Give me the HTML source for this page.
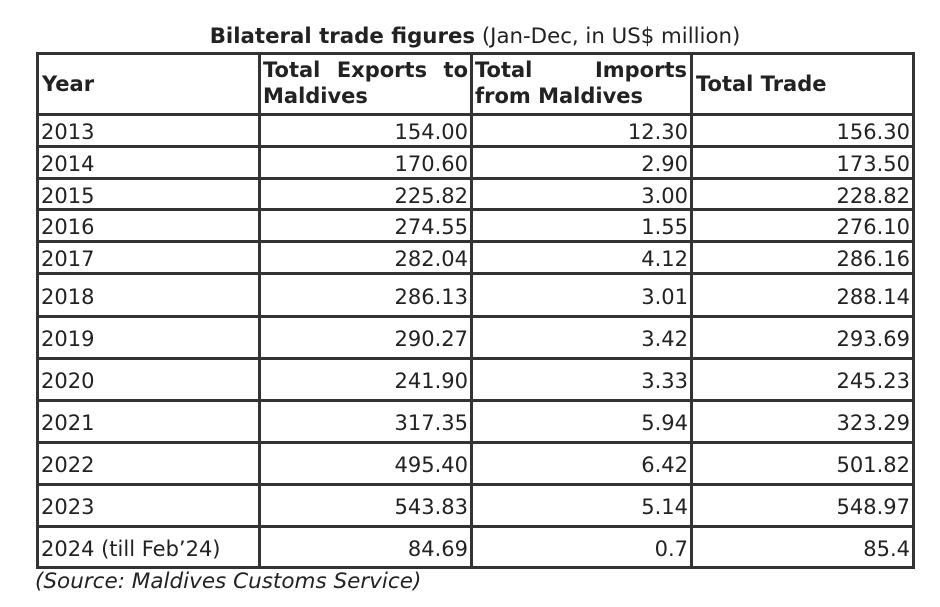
<!DOCTYPE html>
<html><head><meta charset="utf-8"><style>
body{margin:0;width:940px;height:607px;background:#fff;position:relative;overflow:hidden;font-family:"DejaVu Sans","Liberation Sans",sans-serif;color:#222}
.h{position:absolute;height:3px;background:#333;left:36px;width:879px}
.v{position:absolute;width:3px;background:#333;top:53px;height:516px}
.t{position:absolute;font-size:21px;line-height:24px;white-space:nowrap}
.r{text-align:right}
.b{font-weight:bold}
</style></head><body>
<div class="t" style="left:0;width:950px;text-align:center;top:25px;font-size:21.3px"><span class="b">Bilateral trade figures</span> (Jan-Dec, in US$ million)</div>
<div class="h" style="top:52px"></div>
<div class="h" style="top:113px"></div>
<div class="h" style="top:145px"></div>
<div class="h" style="top:177px"></div>
<div class="h" style="top:208px"></div>
<div class="h" style="top:240px"></div>
<div class="h" style="top:272px"></div>
<div class="h" style="top:315px"></div>
<div class="h" style="top:357px"></div>
<div class="h" style="top:399px"></div>
<div class="h" style="top:441px"></div>
<div class="h" style="top:483px"></div>
<div class="h" style="top:525px"></div>
<div class="h" style="top:566px"></div>
<div class="v" style="left:36px"></div>
<div class="v" style="left:258px"></div>
<div class="v" style="left:470px"></div>
<div class="v" style="left:690px"></div>
<div class="v" style="left:912px"></div>
<div class="t b" style="left:42px;top:72px">Year</div>
<div class="t b" style="left:263px;top:58px;width:205px;text-align:justify;text-align-last:justify">Total Exports to</div>
<div class="t b" style="left:263px;top:84px">Maldives</div>
<div class="t b" style="left:475px;top:58px;width:212px;text-align-last:justify">Total Imports</div>
<div class="t b" style="left:475px;top:84px">from Maldives</div>
<div class="t b" style="left:696px;top:72px">Total Trade</div>
<div id="rows"></div>
<div class="t" style="left:35px;top:570px;font-style:italic;font-size:21.5px">(Source: Maldives Customs Service)</div>
<script>
var d=[["2013","154.00","12.30","156.30"],["2014","170.60","2.90","173.50"],["2015","225.82","3.00","228.82"],["2016","274.55","1.55","276.10"],["2017","282.04","4.12","286.16"],["2018","286.13","3.01","288.14"],["2019","290.27","3.42","293.69"],["2020","241.90","3.33","245.23"],["2021","317.35","5.94","323.29"],["2022","495.40","6.42","501.82"],["2023","543.83","5.14","548.97"],["2024 (till Feb’24)","84.69","0.7","85.4"]];
var ys=[116,148,180,211,243,275,318,360,402,444,486,528,569];
var h="";
for(var i=0;i<d.length;i++){var c=(ys[i]+ys[i+1])/2-12;
h+='<div class="t" style="left:41px;top:'+c+'px">'+d[i][0]+'</div>';
h+='<div class="t r" style="left:262px;width:206px;top:'+c+'px">'+d[i][1]+'</div>';
h+='<div class="t r" style="left:474px;width:214px;top:'+c+'px">'+d[i][2]+'</div>';
h+='<div class="t r" style="left:694px;width:216px;top:'+c+'px">'+d[i][3]+'</div>';}
document.getElementById("rows").innerHTML=h;
</script>
</body></html>
